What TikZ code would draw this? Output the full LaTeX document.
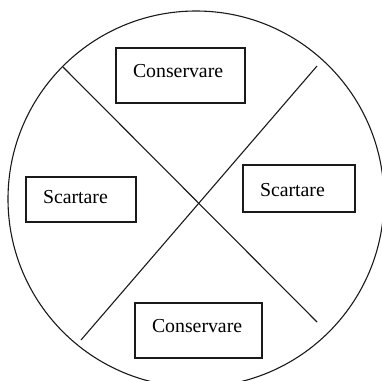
\documentclass[tikz,border=0pt]{standalone}
\usepackage{fontspec}
\setmainfont{Liberation Serif}
\usetikzlibrary{positioning,calc}
\definecolor{dark}{HTML}{1A1A1A}
\tikzset{
  part/.style={draw=dark, line width=1.1pt},
  choicebox/.style={draw=dark, line width=1.1pt, inner xsep=17pt, align=left, text height=13pt, font=\fontsize{19.8pt}{22pt}\selectfont},
  keepbox/.style={choicebox, text depth=10pt, minimum height=55pt},
  dropbox/.style={choicebox, minimum height=46pt}
}
\begin{document}
\begin{tikzpicture}[x=1pt, y=-1pt]
  \useasboundingbox (0,0) rectangle (382,380);
  \clip (0,0) rectangle (382,380);
  % the round and its two cuts
  \coordinate (mid) at (196,199);
  \draw[part] (mid) circle (188);
  \coordinate (cutA1) at (63,67);
  \coordinate (cutA2) at (317,322);
  \coordinate (cutB1) at (317,66);
  \coordinate (cutB2) at (81,340);
  \draw[part] (cutA1) -- (cutA2);
  \draw[part] (cutB1) -- (cutB2);
  % the four fields
  \node[keepbox, text width=95pt] (keepTop) at (180.5,75.5) {Conservare};
  \node[dropbox, text width=78pt, text height=15pt, text depth=0pt, minimum height=47pt] (dropRight) at (299,188.5) {Scartare};
  \node[dropbox, text width=76pt, text depth=6pt, minimum height=45pt] (dropLeft) at (81,199.5) {Scartare};
  \node[keepbox, text width=93pt] (keepBottom) at (198.5,330.5) {Conservare};
\end{tikzpicture}
\end{document}
